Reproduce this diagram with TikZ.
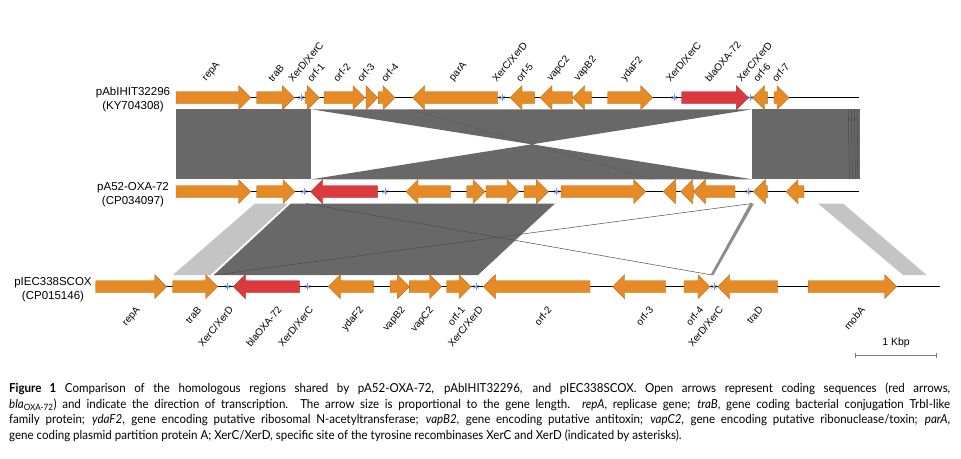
\documentclass[tikz,border=0pt]{standalone}
\usepackage{fontspec}
\setmainfont{Liberation Sans}
\newfontfamily\capfont[FakeStretch=0.93]{Lato}
\usetikzlibrary{positioning}
\definecolor{GeneOr}{HTML}{E58A24}
\definecolor{GeneRed}{HTML}{DA3A3B}
\definecolor{BandDark}{HTML}{686868}
\definecolor{BandLight}{HTML}{C4C4C4}
\definecolor{XerBlue}{HTML}{7C96DE}
\definecolor{BarGray}{HTML}{7A7A7A}
\newcommand{\xdc}{XerD/XerC}
\newcommand{\xcd}{XerC/XerD}
% forward gene: row y, start, tip, colour
\newcommand{\fgene}[4]{%
  \pgfmathsetmacro{\hx}{max(#2,#3-12)}
  \filldraw[gene, fill=#4, draw=#4!80!black] (#2,#1-6) -- (\hx,#1-6) -- (\hx,#1-12) -- (#3,#1)
    -- (\hx,#1+12) -- (\hx,#1+6) -- (#2,#1+6) -- cycle;}
% reverse gene: row y, tip, end, colour
\newcommand{\rgene}[4]{%
  \pgfmathsetmacro{\hx}{min(#3,#2+12)}
  \filldraw[gene, fill=#4, draw=#4!80!black] (#3,#1-6) -- (\hx,#1-6) -- (\hx,#1-12) -- (#2,#1)
    -- (\hx,#1+12) -- (\hx,#1+6) -- (#3,#1+6) -- cycle;}
% xer site asterisk
\newcommand{\xersite}[2]{%
  \foreach \a in {30,90,150} \draw[xer] (#1,#2) +(\a:3.3) -- +(\a:-3.3);}
% one justified caption line
\newcommand{\capline}[1]{\hbox to 941pt{#1}}

\begin{document}
\begin{tikzpicture}[
  x=1pt, y=-1pt,
  backbone/.style={black, line width=1.3pt},
  gene/.style={line width=0.4pt, line join=miter},
  xer/.style={XerBlue, line width=0.8pt},
  plasmid/.style={align=center, font=\fontsize{11.5}{14}\selectfont, inner sep=0pt},
  toplbl/.style={rotate=50, anchor=south west, inner sep=0pt, font=\fontsize{10}{11}\selectfont},
  botlbl/.style={rotate=50, anchor=north east, inner sep=0pt, font=\fontsize{10}{11}\selectfont},
  scalebar/.style={BarGray, line width=0.8pt},
  caption/.style={anchor=north west, inner sep=0pt, text width=941pt, align=justify,
    font=\capfont\fontsize{12.4}{15.5}\selectfont}
]
\useasboundingbox (0,0) rectangle (961,458);

% homology pAbIHIT32296 / pA52-OXA-72
\fill[BandDark] (176,109.3) rectangle (311.3,179.3);
\fill[BandDark] (311.3,109.3) -- (752.3,109.3) -- (311.3,179.3) -- (752.3,179.3) -- cycle;
\fill[BandDark] (752.3,109.3) rectangle (859.5,179.3);
\draw[black!72, densely dotted, line width=0.5pt] (411,109.3) -- (652,179.3);
\foreach \x in {848.5,851.5,854.5,857} \draw[black!80, line width=0.3pt] (\x,109.3) -- (\x+0.8,179.3);

% homology pA52-OXA-72 / pIEC338SCOX
\fill[BandLight] (255,203.5) -- (288,203.5) -- (210.3,275) -- (172.8,275) -- cycle;
\fill[BandDark] (290.8,203.5) -- (554.9,203.5) -- (478,275) -- (213.8,275) -- cycle;
\draw[black!70, line width=0.5pt] (306,203.5) -- (712,275);
\draw[black!70, line width=0.5pt] (752,203.5) -- (214,275);
\fill[black!45] (750,203.5) -- (754,203.5) -- (713.5,275) -- (710.5,275) -- cycle;
\fill[BandLight] (818,203.5) -- (843,203.5) -- (926.7,275) -- (903,275) -- cycle;

% pAbIHIT32296
\node[plasmid] (pAb) at (133,100) {pAbIHIT32296\\(KY704308)};
\draw[backbone] (176,97.7) -- (859.3,97.7);
\foreach \a/\b in {176/250.7, 256.7/294.3, 305/319.3, 324/365, 366/377.7, 378.3/395, 607.7/652.7, 774/789}
  \fgene{97.7}{\a}{\b}{GeneOr};
\foreach \a/\b in {412.7/497.7, 510/534.3, 540/572.7, 572.7/591.7, 752.7/767.3}
  \rgene{97.7}{\a}{\b}{GeneOr};
\fgene{97.7}{681.7}{748.3}{GeneRed};
\foreach \x in {301,502,674.3,750} \xersite{\x}{97.7};
\foreach \x/\t [count=\i] in {208/repA, 273/traB, 293/\xdc, 312/orf-1, 338/orf-2, 362/orf-3,
    386/orf-4, 455/parA, 497/\xcd, 520.7/orf-5, 553/vapC2, 580/vapB2, 626.7/ydaF2,
    670.7/\xdc, 710/blaOXA-72, 741.7/\xcd, 758/orf-6, 776.7/orf-7}
  \node[toplbl] (t\i) at (\x,83) {\t};

% pA52-OXA-72
\node[plasmid] (pA52) at (133,194.5) {pA52-OXA-72\\(CP034097)};
\draw[backbone] (176,191.7) -- (859.3,191.7);
\foreach \a/\b in {176/250.7, 256.7/295, 466.7/485, 486/519, 524/548.3, 561/645.7}
  \fgene{191.7}{\a}{\b}{GeneOr};
\foreach \a/\b in {406/450.7, 663.3/676, 680.7/693.3, 693.3/735, 753.3/767.7, 786/804}
  \rgene{191.7}{\a}{\b}{GeneOr};
\rgene{191.7}{310.7}{377.3}{GeneRed};
\foreach \x in {304,385,556.5,748.3} \xersite{\x}{191.7};

% pIEC338SCOX
\node[plasmid] (pIEC) at (53,289.2) {pIEC338SCOX\\(CP015146)};
\draw[backbone] (95.7,286.7) -- (940,286.7);
\foreach \a/\b in {95.7/166.7, 172.7/217.7, 390/409.3, 409.3/441.7, 446.7/471, 684/710, 808.3/896.7}
  \fgene{286.7}{\a}{\b}{GeneOr};
\foreach \a/\b in {328.3/373.3, 483.3/590, 612.7/665.7, 717.7/777.7}
  \rgene{286.7}{\a}{\b}{GeneOr};
\rgene{286.7}{233.3}{299.3}{GeneRed};
\foreach \x in {227.7,307.7,476,714} \xersite{\x}{286.7};
\foreach \x/\t [count=\i] in {135/repA, 196.7/traB, 228.3/\xcd, 276.7/blaOXA-72, 308.3/\xdc,
    358.3/ydaF2, 400/vapB2, 428.3/vapC2, 460/orf-1, 478/\xcd, 546.7/orf-2, 648.3/orf-3,
    698.3/orf-4, 718.3/\xdc, 758.3/traD, 860/mobA}
  \node[botlbl] (b\i) at (\x,305.5) {\t};

% scale
\coordinate (kbpL) at (855,355);
\coordinate (kbpR) at (936,355);
\draw[scalebar] (kbpL) -- (kbpR);
\draw[scalebar] (855,352.5) -- (855,357.5) (936,352.5) -- (936,357.5);
\node[font=\fontsize{10.5}{12}\selectfont] (kbp) at (896,343) {1 Kbp};

% caption
\node[caption] (cap) at (9,383) {%
\capline{{\bfseries Figure 1} Comparison of the homologous regions shared by pA52-OXA-72, pAbIHIT32296, and pIEC338SCOX. Open arrows represent coding sequences (red arrows,}
\capline{\textit{bla}\textsubscript{OXA-72}) and indicate the direction of transcription. The arrow size is proportional to the gene length. \textit{repA}, replicase gene; \textit{traB}, gene coding bacterial conjugation TrbI-like}
\capline{family protein; \textit{ydaF2}, gene encoding putative ribosomal N-acetyltransferase; \textit{vapB2}, gene encoding putative antitoxin; \textit{vapC2}, gene encoding putative ribonuclease/toxin; \textit{parA},}
\hbox{gene coding plasmid partition protein A; XerC/XerD, specific site of the tyrosine recombinases XerC and XerD (indicated by asterisks).}};
\end{tikzpicture}
\end{document}
